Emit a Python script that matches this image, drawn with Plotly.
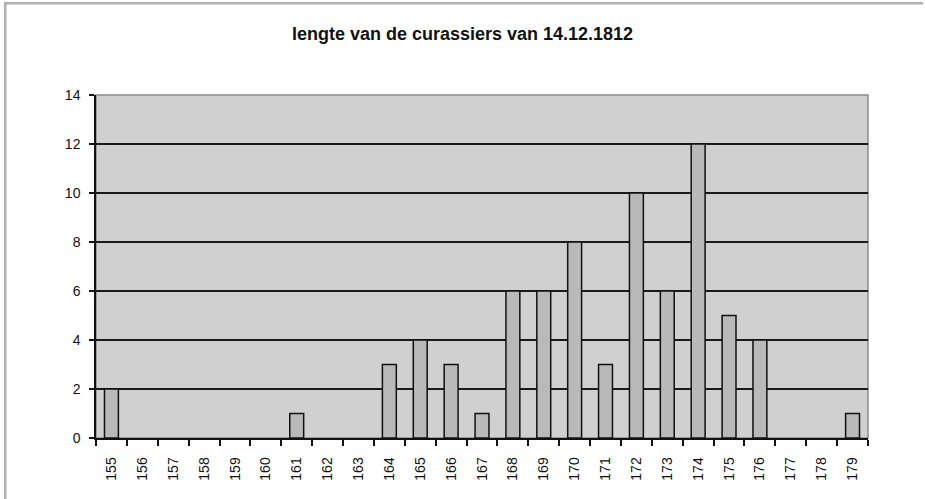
import plotly.graph_objects as go

categories = [str(v) for v in range(155, 180)]
counts = [2, 0, 0, 0, 0, 0, 1, 0, 0, 3, 4, 3, 1, 6, 6, 8, 3, 10, 6, 12, 5, 4, 0, 0, 1]
y_ticks = [0, 2, 4, 6, 8, 10, 12, 14]
title_text = "lengte van de curassiers van 14.12.1812"

FONT = "Liberation Sans Narrow, Arial Narrow, Liberation Sans, Arial, sans-serif"

L, R, T, B = 96, 57, 95, 61
PW, PH = 925 - L - R, 499 - T - B


def px_x(x):
    return (x - L) / PW


def px_y(y):
    return (499 - B - y) / PH


fig = go.Figure(go.Bar(
    x=categories, y=counts,
    marker=dict(color="#b9b9b9",
                line=dict(color="#111111", width=[1.5 if c > 0 else 0 for c in counts])),
    width=0.45,
))

fig.update_layout(
    width=925, height=499,
    margin=dict(l=L, r=R, t=T, b=B),
    paper_bgcolor="white",
    plot_bgcolor="#d0d0d0",
    showlegend=False,
    title=dict(text="<b>" + title_text + "</b>", x=0.5, xanchor="center",
               y=1 - 34 / 499, yanchor="middle", yref="container",
               font=dict(family=FONT, size=18, color="#111111")),
    font=dict(family=FONT, size=14, color="#111111"),
    bargap=0.55,
    shapes=[
        dict(type="rect", xref="paper", yref="paper", x0=0, x1=1, y0=0, y1=1,
             line=dict(color="#8a8a8a", width=1.5), layer="below"),
        dict(type="rect", xref="paper", yref="paper",
             x0=px_x(4), x1=px_x(6.5), y0=px_y(2), y1=px_y(499),
             fillcolor="#b0b0b0", line=dict(width=0), layer="above"),
        dict(type="rect", xref="paper", yref="paper",
             x0=px_x(4), x1=px_x(923), y0=px_y(2), y1=px_y(4.5),
             fillcolor="#b0b0b0", line=dict(width=0), layer="above"),
    ],
)

fig.update_xaxes(
    type="category", tickangle=-90, ticks="outside", tickson="boundaries",
    ticklen=6, tickwidth=1.5, tickcolor="#111111", ticklabelstandoff=12,
    showline=True, linecolor="#111111", linewidth=1.5,
    showgrid=False, zeroline=False,
    tickfont=dict(family=FONT, size=14, color="#111111"),
)
fig.update_yaxes(
    range=[0, 14], tickvals=y_ticks, ticks="outside", ticklen=5,
    tickwidth=1.5, tickcolor="#111111", ticklabelstandoff=6,
    showline=True, linecolor="#111111", linewidth=1.5,
    showgrid=True, gridcolor="#1a1a1a", gridwidth=1.5, zeroline=False,
    tickfont=dict(family=FONT, size=14, color="#111111"),
)

fig.write_html("out.html", config={"displayModeBar": False},
               post_script="document.body.style.margin='0';")
